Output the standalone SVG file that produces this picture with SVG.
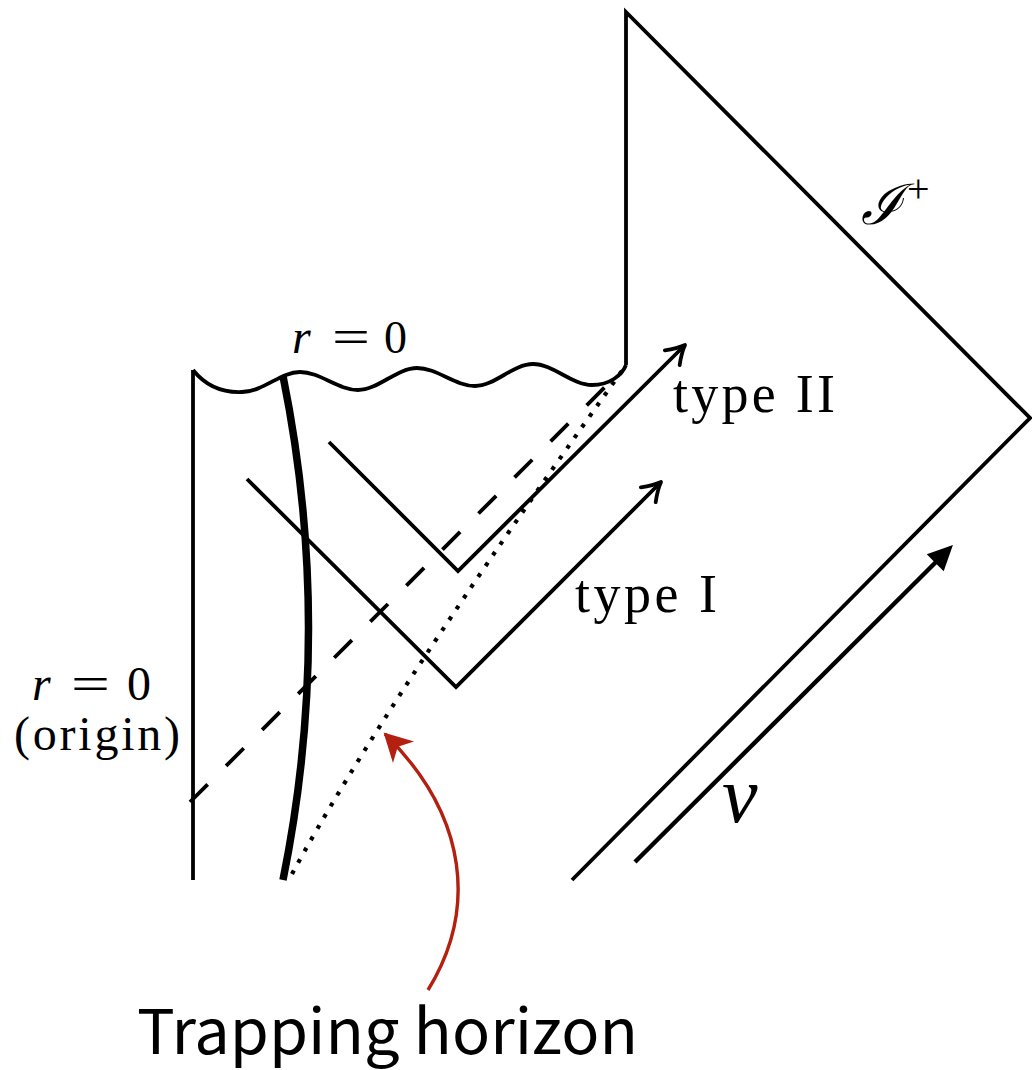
<svg xmlns="http://www.w3.org/2000/svg" width="1032" height="1070" viewBox="0 0 1032 1070">
<style>
.ln{fill:none;stroke:#000;stroke-width:3.8;stroke-linecap:butt;stroke-linejoin:miter}
.serif{font-family:"Liberation Serif","Times New Roman",serif;fill:#000}
.it{font-style:italic}
.sans{font-family:"Noto Sans CJK JP","Noto Sans",sans-serif;fill:#000}
</style>
<defs>
<marker id="open" markerUnits="userSpaceOnUse" markerWidth="40" markerHeight="40" refX="0" refY="0" viewBox="-30 -20 40 40" orient="auto" overflow="visible">
<path d="M-18,-10.5 Q-8,-3 0,0 Q-8,3 -18,10.5" fill="none" stroke="#000" stroke-width="3.8" stroke-linecap="round" stroke-linejoin="round"/>
</marker>
<marker id="solid" markerUnits="userSpaceOnUse" markerWidth="40" markerHeight="40" refX="0" refY="0" viewBox="-30 -20 40 40" orient="auto" overflow="visible">
<path d="M14,0 L-11,-12 L-11,12 Z" fill="#000"/>
</marker>
<marker id="red" markerUnits="userSpaceOnUse" markerWidth="40" markerHeight="40" refX="0" refY="0" viewBox="-30 -20 40 40" orient="auto" overflow="visible">
<path d="M2,0 L-26,-15 L-18,0 L-26,15 Z" fill="#b3200f"/>
</marker>
</defs>
<rect width="1032" height="1070" fill="#fff"/>

<g id="frame">
<path class="ln" d="M626,365 L626,12 L1030,418 L572,880"/>
<path class="ln" d="M193,880 L193,370"/>
<path id="singularity" class="ln" d="M193,370 C205,385 220,393 242,392 C265,391 280,372 300,372 C320,372 338,390 358,390 C378,390 397,368 417,368 C437,368 455,386 475,386 C495,386 513,364 533,364 C553,364 572,385 592,385 C610,385 622,375 626,365"/>
</g>

<g id="worldline">
<path d="M283,376 Q334,628 283,880" fill="none" stroke="#000" stroke-width="7.5"/>
</g>

<g id="connectors">
<path id="dashed" class="ln" d="M190,802 L622,370" stroke-dasharray="25 26"/>
<path id="dotted" d="M292,874 Q383.6,704.5 624,368" fill="none" stroke="#000" stroke-width="4.2" stroke-dasharray="4 9"/>
<path id="typeII" class="ln" d="M329,442 L458,571 L685,345" marker-end="url(#open)"/>
<path id="typeI" class="ln" d="M247,479 L456,687 L661,482" marker-end="url(#open)"/>
<path id="v-arrow" d="M635,862 L943,555" fill="none" stroke="#000" stroke-width="4.4" marker-end="url(#solid)"/>
<path id="trap-arrow" d="M428,990 C476,912 470,818 385,734" fill="none" stroke="#b3200f" stroke-width="3.4" marker-end="url(#red)"/>
</g>

<g id="labels">
<text class="serif it" x="292" y="353" font-size="48">r</text>
<text class="serif" x="332" y="353" font-size="48" textLength="38" lengthAdjust="spacingAndGlyphs">=</text>
<text class="serif" x="384" y="353" font-size="46">0</text>

<text class="serif" x="673" y="412" font-size="54" textLength="162">type II</text>
<text class="serif" x="575" y="612" font-size="54" textLength="142">type I</text>

<text class="serif it" x="32" y="700" font-size="48">r</text>
<text class="serif" x="71" y="700" font-size="48" textLength="39" lengthAdjust="spacingAndGlyphs">=</text>
<text class="serif" x="127" y="700" font-size="48">0</text>
<text class="serif" x="14" y="750" font-size="48" textLength="166">(origin)</text>

<text class="serif it" x="722" y="822" font-size="80">v</text>

<text class="serif it" x="861" y="224" font-size="56">ℐ</text>
<text class="serif" x="907" y="202" font-size="40">+</text>

<text class="sans" x="137" y="1054" font-size="62" textLength="501" lengthAdjust="spacingAndGlyphs">Trapping horizon</text>
</g>
</svg>
